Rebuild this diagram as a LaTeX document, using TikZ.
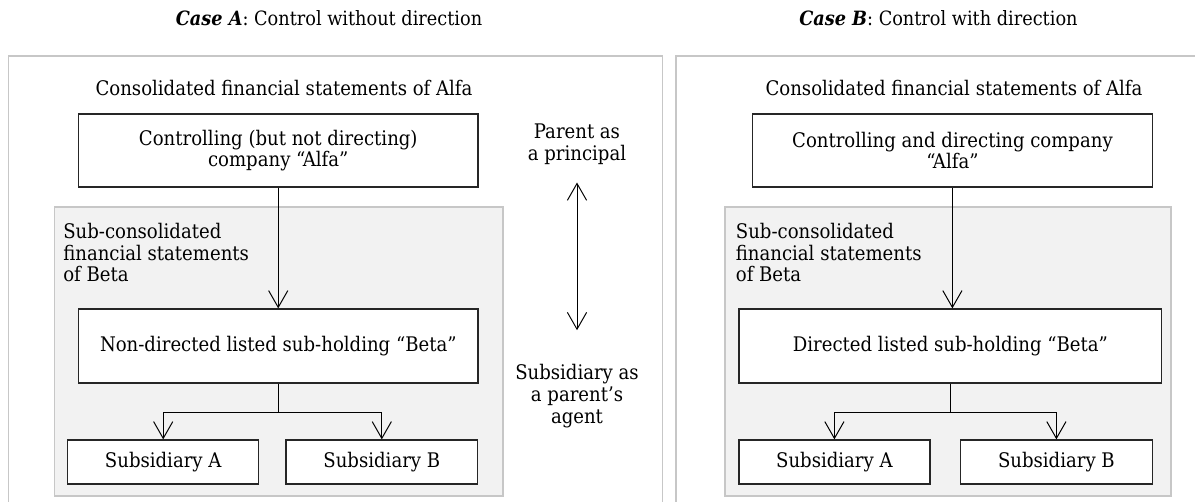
\documentclass[tikz,border=0pt]{standalone}
\usepackage{fontspec}
\setmainfont{DejaVu Serif Condensed}
\usepackage{tikz}
\usetikzlibrary{arrows.meta}
\newcommand\diagfont{\fontsize{14.3}{15.4}\selectfont}
\tikzset{
  every node/.style={font=\diagfont},
  company/.style={draw=black!85, line width=0.9pt, fill=white, align=center, inner sep=0pt},
  panel/.style={draw=black!22, line width=1.2pt},
  subgroup/.style={draw=black!22, fill=black!5, line width=0.8pt},
  caption/.style={align=center, inner sep=0pt},
  link/.style={line width=0.7pt, -{Straight Barb[length=4.2mm,width=4.8mm]}},
  twoway/.style={line width=0.7pt, {Straight Barb[length=4.2mm,width=4.8mm]}-{Straight Barb[length=4.2mm,width=4.8mm]}},
}
\begin{document}
\begin{tikzpicture}
	%%%%% START %%%%%
	\useasboundingbox (0, 0) rectangle (29.875, 12.525);
	
	\draw[panel] (0.21, -1) -- (0.21, 11.125) -- (16.565, 11.125) -- (16.565, -1);
	\draw[panel] (16.9, -1) -- (16.9, 11.125) -- (30.5, 11.125);
	
	\node[font=\fontsize{14}{15}\selectfont] (titleA) at (8.225, 12.075) {\textbf{\textit{Case A}}: Control without direction};
	\node[font=\fontsize{14}{15}\selectfont] (titleB) at (23.46, 12.075) {\textbf{\textit{Case B}}: Control with direction};
	
	%% case A
	\node (consA) at (7.1, 10.325) {Consolidated financial statements of Alfa};
	\node[company, minimum width=9.99cm, minimum height=1.825cm] (alfaA) at (6.956, 8.7625) {Controlling (but not directing)\\company ``Alfa''};
	\draw[subgroup] (1.3675, 0.125) rectangle (12.575, 7.35);
	\node[caption, anchor=north west, align=left] (subconsA) at (1.575, 6.95) {Sub-consolidated\\financial statements\\of Beta};
	\node[company, minimum width=9.99cm, minimum height=1.85cm] (betaA) at (6.956, 3.875) {Non-directed listed sub-holding ``Beta''};
	\node[company, minimum width=4.775cm, minimum height=1.1cm] (subAa) at (4.08, 0.975) {Subsidiary A};
	\node[company, minimum width=4.79cm, minimum height=1.1cm] (subBa) at (9.545, 0.975) {Subsidiary B};
	\coordinate (forkA) at (6.956, 2.225);
	
	\draw[link] (alfaA.south) -- (betaA.north);
	\draw[line width=0.7pt] (betaA.south) -- (forkA);
	\draw[link] (forkA) -| (subAa.north);
	\draw[link] (forkA) -| (subBa.north);
	
	%% middle
	\node[caption] (principal) at (14.425, 8.925) {Parent as\\a principal};
	\node[caption] (agent) at (14.425, 2.625) {Subsidiary as\\a parent's\\agent};
	\draw[twoway, shorten <=0.45cm, shorten >=0.85cm] (principal) -- (agent);
	
	%% case B
	\node (consB) at (23.85, 10.325) {Consolidated financial statements of Alfa};
	\node[company, minimum width=9.99cm, minimum height=1.825cm] (alfaB) at (23.81, 8.7625) {Controlling and directing company\\``Alfa''};
	\draw[subgroup] (18.125, 0.125) rectangle (29.275, 7.35);
	\node[caption, anchor=north west, align=left] (subconsB) at (18.39, 6.95) {Sub-consolidated\\financial statements\\of Beta};
	\node[company, minimum width=10.57cm, minimum height=1.85cm] (betaB) at (23.76, 3.875) {Directed listed sub-holding ``Beta''};
	\node[company, minimum width=4.775cm, minimum height=1.1cm] (subAb) at (20.86, 0.975) {Subsidiary A};
	\node[company, minimum width=4.79cm, minimum height=1.1cm] (subBb) at (26.41, 0.975) {Subsidiary B};
	\coordinate (forkB) at (23.76, 2.225);
	
	\draw[link] (alfaB.south) -- (alfaB.south |- betaB.north);
	\draw[line width=0.7pt] (betaB.south) -- (forkB);
	\draw[link] (forkB) -| (subAb.north);
	\draw[link] (forkB) -| (subBb.north);
	%%%%% END %%%%%
\end{tikzpicture}
\end{document}
